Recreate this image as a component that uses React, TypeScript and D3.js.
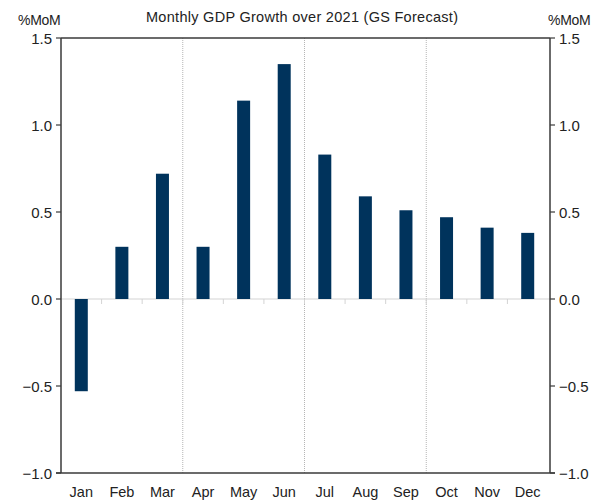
import React, { useEffect, useRef } from 'react';
import * as d3 from 'd3';

const months = ['Jan', 'Feb', 'Mar', 'Apr', 'May', 'Jun', 'Jul', 'Aug', 'Sep', 'Oct', 'Nov', 'Dec'];
const growth = [-0.53, 0.3, 0.72, 0.3, 1.14, 1.35, 0.83, 0.59, 0.51, 0.47, 0.41, 0.38];
const yTicks = [-1.0, -0.5, 0.0, 0.5, 1.0, 1.5];
const quarterBreaks = ['Apr', 'Jul', 'Oct'];

const App: React.FC = () => {
  const svgRef = useRef<SVGSVGElement>(null);

  useEffect(() => {
    if (!svgRef.current) return;
    const svg = d3.select(svgRef.current);
    svg.selectAll('*').remove();

    const width = 604;
    const height = 503;
    const left = 61;
    const right = 550;
    const top = 38;
    const bottom = 473;
    const font = '"Liberation Sans", Arial, sans-serif';

    const x = d3.scaleBand().domain(months).range([left, right - 2]).paddingInner(0).paddingOuter(0);
    const y = d3.scaleLinear().domain([-1, 1.5]).range([bottom, top]);
    const barW = 13;

    svg.attr('width', width).attr('height', height);
    svg.append('rect').attr('width', width).attr('height', height).attr('fill', '#fff');

    // quarter dividers
    svg.selectAll('.qline').data(quarterBreaks).enter().append('line')
      .attr('x1', d => x(d)!).attr('x2', d => x(d)!)
      .attr('y1', top).attr('y2', bottom)
      .attr('stroke', '#b5b5b5').attr('stroke-width', 1).attr('stroke-dasharray', '1,1');

    // zero line + category ticks
    svg.append('line')
      .attr('x1', left).attr('x2', right)
      .attr('y1', y(0)).attr('y2', y(0))
      .attr('stroke', '#d4d4d4').attr('stroke-width', 1.2);
    svg.selectAll('.ctick').data(months.slice(1)).enter().append('line')
      .attr('x1', d => x(d)!).attr('x2', d => x(d)!)
      .attr('y1', y(0)).attr('y2', y(0) + 5)
      .attr('stroke', '#d4d4d4').attr('stroke-width', 1);

    // bars
    svg.selectAll('.bar').data(growth).enter().append('rect')
      .attr('x', (d, i) => x(months[i])! + x.bandwidth() / 2 - barW / 2)
      .attr('y', d => y(Math.max(0, d)))
      .attr('width', barW)
      .attr('height', d => Math.abs(y(d) - y(0)))
      .attr('fill', '#00335c');

    // frame
    const axisColor = '#3a3a3a';
    svg.append('line').attr('x1', left).attr('x2', right).attr('y1', top).attr('y2', top)
      .attr('stroke', axisColor).attr('stroke-width', 1.5);
    svg.append('line').attr('x1', left - 5).attr('x2', right + 5).attr('y1', bottom).attr('y2', bottom)
      .attr('stroke', axisColor).attr('stroke-width', 1.5);
    svg.append('line').attr('x1', left).attr('x2', left).attr('y1', top).attr('y2', bottom)
      .attr('stroke', axisColor).attr('stroke-width', 1.5);
    svg.append('line').attr('x1', right).attr('x2', right).attr('y1', top).attr('y2', bottom)
      .attr('stroke', axisColor).attr('stroke-width', 1.5);

    // y ticks, both sides
    svg.selectAll('.lt').data(yTicks).enter().append('line')
      .attr('x1', left - 5).attr('x2', left).attr('y1', d => y(d)).attr('y2', d => y(d))
      .attr('stroke', axisColor).attr('stroke-width', 1.2);
    svg.selectAll('.rt').data(yTicks).enter().append('line')
      .attr('x1', right).attr('x2', right + 5).attr('y1', d => y(d)).attr('y2', d => y(d))
      .attr('stroke', axisColor).attr('stroke-width', 1.2);

    svg.selectAll('.ll').data(yTicks).enter().append('text')
      .attr('x', left - 9).attr('y', d => y(d) + 5.5)
      .attr('text-anchor', 'end').attr('font-family', font).attr('font-size', 15).attr('fill', '#222')
      .text(d => d3.format('.1f')(d));
    svg.selectAll('.rl').data(yTicks).enter().append('text')
      .attr('x', right + 9).attr('y', d => y(d) + 5.5)
      .attr('text-anchor', 'start').attr('font-family', font).attr('font-size', 15).attr('fill', '#222')
      .text(d => d3.format('.1f')(d));

    // month labels
    svg.selectAll('.ml').data(months).enter().append('text')
      .attr('x', d => x(d)! + x.bandwidth() / 2).attr('y', 497)
      .attr('text-anchor', 'middle').attr('font-family', font).attr('font-size', 14.5).attr('fill', '#222')
      .text(d => d);

    // unit labels and title
    svg.append('text').attr('x', 18).attr('y', 25).attr('font-family', font).attr('font-size', 14)
      .attr('fill', '#222').attr('letter-spacing', -0.3).text('%MoM');
    svg.append('text').attr('x', 548).attr('y', 25).attr('font-family', font).attr('font-size', 14)
      .attr('fill', '#222').attr('letter-spacing', -0.3).text('%MoM');
    svg.append('text').attr('x', 302).attr('y', 22).attr('text-anchor', 'middle')
      .attr('font-family', font).attr('font-size', 14.5).attr('fill', '#222')
      .attr('textLength', 312).attr('lengthAdjust', 'spacing')
      .text('Monthly GDP Growth over 2021 (GS Forecast)');
  }, []);

  return (
    <div style={{ position: 'absolute', left: 0, top: 0 }}>
      <svg ref={svgRef} width={604} height={503} />
    </div>
  );
};

export default App;
